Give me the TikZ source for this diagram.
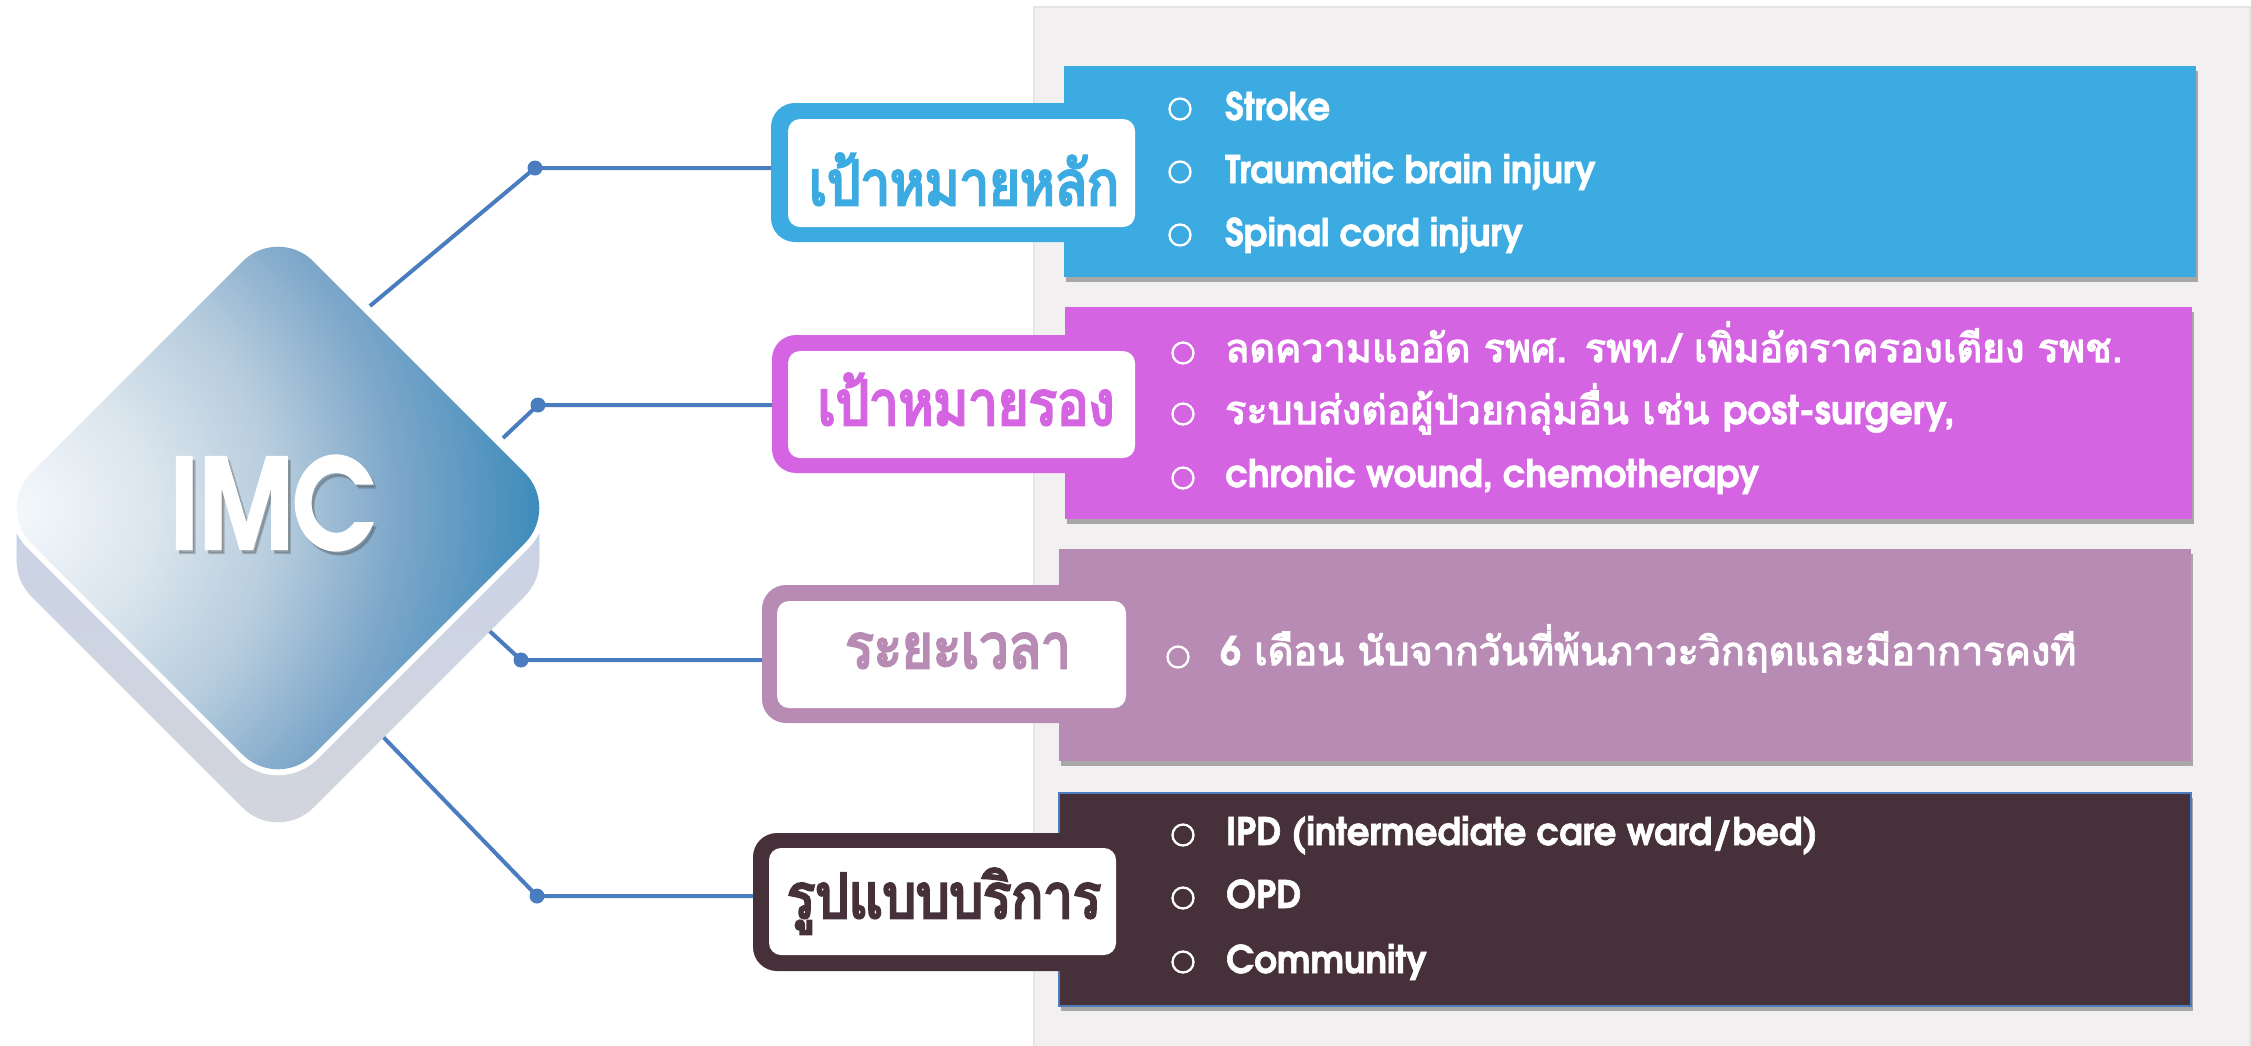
\documentclass[tikz,border=0pt]{standalone}
\usepackage{fontspec}
\usetikzlibrary{shadows,calc}
\setmainfont{Poppins}
\newfontfamily\advb{texgyreadventor-bold.otf}[FakeStretch=0.94,FakeBold=1.5]
\newfontfamily\advi{texgyreadventor-bold.otf}[FakeStretch=0.84,FakeBold=2]
\newfontfamily\thaib[Script=Thai,FakeBold=3]{Loma}
\newfontfamily\thail[Script=Thai,FakeStretch=0.85,FakeBold=4]{Loma}
\definecolor{cblue}{HTML}{3BABE1}
\definecolor{cmag}{HTML}{D464E1}
\definecolor{cmauve}{HTML}{B88BB5}
\definecolor{cdark}{HTML}{46313A}
\definecolor{lineblue}{HTML}{4A7DBF}
\definecolor{panelc}{HTML}{F2F0F1}
\definecolor{lowA}{HTML}{C3D1EC}
\definecolor{lowB}{HTML}{D3D5DC}
\definecolor{faceA}{HTML}{F4F8FB}
\definecolor{faceQ}{HTML}{DCE6EE}
\definecolor{faceB}{HTML}{B6CCDD}
\definecolor{faceC}{HTML}{7FA8CA}
\definecolor{faceD}{HTML}{3E8BBB}
\pgfdeclareradialshading{imcface}{\pgfpoint{0bp}{0bp}}{color(0bp)=(faceA); color(5.8bp)=(faceQ); color(11.6bp)=(faceB); color(16.7bp)=(faceC); color(23.3bp)=(faceD); color(50bp)=(faceD)}
\tikzset{
 conn/.style={draw=lineblue, line width=4pt},
 dotm/.style={circle, fill=lineblue, inner sep=0pt, minimum size=15pt},
 infobox/.style={rectangle, inner sep=0pt, outer sep=0pt, anchor=north west, drop shadow={shadow xshift=2pt, shadow yshift=-5pt, opacity=0.3, fill=black}},
 tabout/.style={rectangle, rounded corners=24pt, inner sep=0pt, outer sep=0pt},
 tabin/.style={rectangle, rounded corners=12pt, fill=white, inner sep=0pt, outer sep=0pt},
 tablab/.style={anchor=base, inner sep=0pt, font=\thail\fontsize{62}{64}\selectfont},
 bul/.style={circle, draw=white, line width=2.3pt, minimum size=21pt, inner sep=0pt},
 ltxt/.style={anchor=base west, inner sep=0pt, text=white, font=\advb\fontsize{38}{40}\selectfont},
 ttxt/.style={anchor=base west, inner sep=0pt, text=white, font=\thaib\fontsize{39.5}{42}\selectfont},
}
\begin{document}
\begin{tikzpicture}[x=1pt,y=-1pt]
\useasboundingbox (0,0) rectangle (2251,1045);
\fill[white] (0,0) rectangle (2251,1045);
% panel
\node[rectangle, fill=panelc, draw=black!10, line width=1.5pt, anchor=north west, minimum width=1216pt, minimum height=1060pt, inner sep=0pt] (panel) at (1033,6) {};
% boxes
\node[infobox, fill=cblue, minimum width=1132pt, minimum height=211pt] (B1) at (1064,66) {};
\node[infobox, fill=cmag, minimum width=1127pt, minimum height=212pt] (B2) at (1065,307) {};
\node[infobox, fill=cmauve, minimum width=1132pt, minimum height=212pt] (B3) at (1059,549) {};
\node[infobox, fill=cdark, draw=lineblue, line width=1.5pt, minimum width=1132pt, minimum height=213pt] (B4) at (1059,793) {};
% tabs
\node[tabout, fill=cblue, minimum width=374pt, minimum height=139pt] (t1) at (958,172.5) {};
\node[tabin, minimum width=347pt, minimum height=108pt] (w1) at (961.5,173) {};
\node[tablab, text=cblue] (l1) at (964,205) {เป้าหมายหลัก};
\node[tabout, fill=cmag, minimum width=373pt, minimum height=138pt] (t2) at (958.5,404) {};
\node[tabin, minimum width=347pt, minimum height=107pt] (w2) at (961.5,404.5) {};
\node[tablab, text=cmag] (l2) at (966,425) {เป้าหมายรอง};
\node[tabout, fill=cmauve, minimum width=378pt, minimum height=138pt] (t3) at (951,654) {};
\node[tabin, minimum width=349pt, minimum height=107pt] (w3) at (951.5,654.5) {};
\node[tablab, text=cmauve] (l3) at (958,668) {ระยะเวลา};
\node[tabout, fill=cdark, minimum width=377pt, minimum height=138pt] (t4) at (941.5,902) {};
\node[tabin, minimum width=347pt, minimum height=107pt] (w4) at (942.5,901.5) {};
\node[tablab, text=cdark] (l4) at (944,918) {รูปแบบบริการ};
% row 1 text
\node[bul] (u11) at (1180,109) {};
\node[ltxt] (x11) at (1225,120) {Stroke};
\node[bul] (u12) at (1180,172) {};
\node[ltxt] (x12) at (1225,183) {Traumatic brain injury};
\node[bul] (u13) at (1180,235) {};
\node[ltxt] (x13) at (1225,246) {Spinal cord injury};
% row 2 text
\node[bul] (u21) at (1183,353) {};
\node[ttxt] (x21) at (1225,362) {ลดความแออัด รพศ. รพท./ เพิ่มอัตราครองเตียง รพช.};
\node[bul] (u22) at (1183,414) {};
\node[ttxt] (x22) at (1225,424) {ระบบส่งต่อผู้ป่วยกลุ่มอื่น เช่น {\advb post-surgery,}};
\node[bul] (u23) at (1183,478) {};
\node[ltxt] (x23) at (1225,487) {chronic wound, chemotherapy};
% row 3 text
\node[bul] (u31) at (1178,657) {};
\node[ttxt] (x31) at (1220,665) {{\advb 6} เดือน นับจากวันที่พ้นภาวะวิกฤตและมีอาการคงที};
% row 4 text
\node[bul] (u41) at (1183,835) {};
\node[ltxt] (x41) at (1226,845) {IPD (intermediate care ward/bed)};
\node[bul] (u42) at (1183,898) {};
\node[ltxt] (x42) at (1226,908) {OPD};
\node[bul] (u43) at (1183,962) {};
\node[ltxt] (x43) at (1226,973) {Community};
% connectors
\coordinate (s1) at (370,306);
\coordinate (s2) at (503,438);
\coordinate (s3) at (470,613);
\coordinate (s4) at (360,713);
\node[dotm] (d1) at (535,168) {};
\node[dotm] (d2) at (538,405) {};
\node[dotm] (d3) at (521,660) {};
\node[dotm] (d4) at (537,896) {};
\draw[conn] (s1) -- (d1.center) -- (d1.center -| t1.west);
\draw[conn] (s2) -- (d2.center) -- (d2.center -| t2.west);
\draw[conn] (s3) -- (d3.center) -- (d3.center -| t3.west);
\draw[conn] (s4) -- (d4.center) -- (d4.center -| t4.west);
% diamond lower layer
\foreach \s in {0,4,...,52} {
  \fill[lowA, rounded corners=50pt] (419,{367+\s}) -- (560,{508+\s}) -- (278,{790+\s}) -- (-4,{508+\s}) -- (278,{226+\s}) -- cycle;
}
\shade[top color=lowA, bottom color=lowB, rounded corners=50pt] (419,420) -- (560,561) -- (278,843) -- (-4,561) -- (278,279) -- cycle;
% white rim
\draw[white, line width=12pt, rounded corners=50pt] (419,367) -- (560,508) -- (278,790) -- (-4,508) -- (278,226) -- cycle;
% top face
\begin{scope}
\clip[rounded corners=50pt] (419,367) -- (560,508) -- (278,790) -- (-4,508) -- (278,226) -- cycle;
\shade[shading=imcface] (-542,-51) rectangle (578,1069);
\end{scope}
\node[text=black!70, opacity=0.3, font=\advi\fontsize{124}{124}\selectfont, inner sep=0pt] (imcsh) at (275,507) {IMC};
\node[text=white, font=\advi\fontsize{124}{124}\selectfont, inner sep=0pt] (imc) at (272,503) {IMC};
\end{tikzpicture}
\end{document}
